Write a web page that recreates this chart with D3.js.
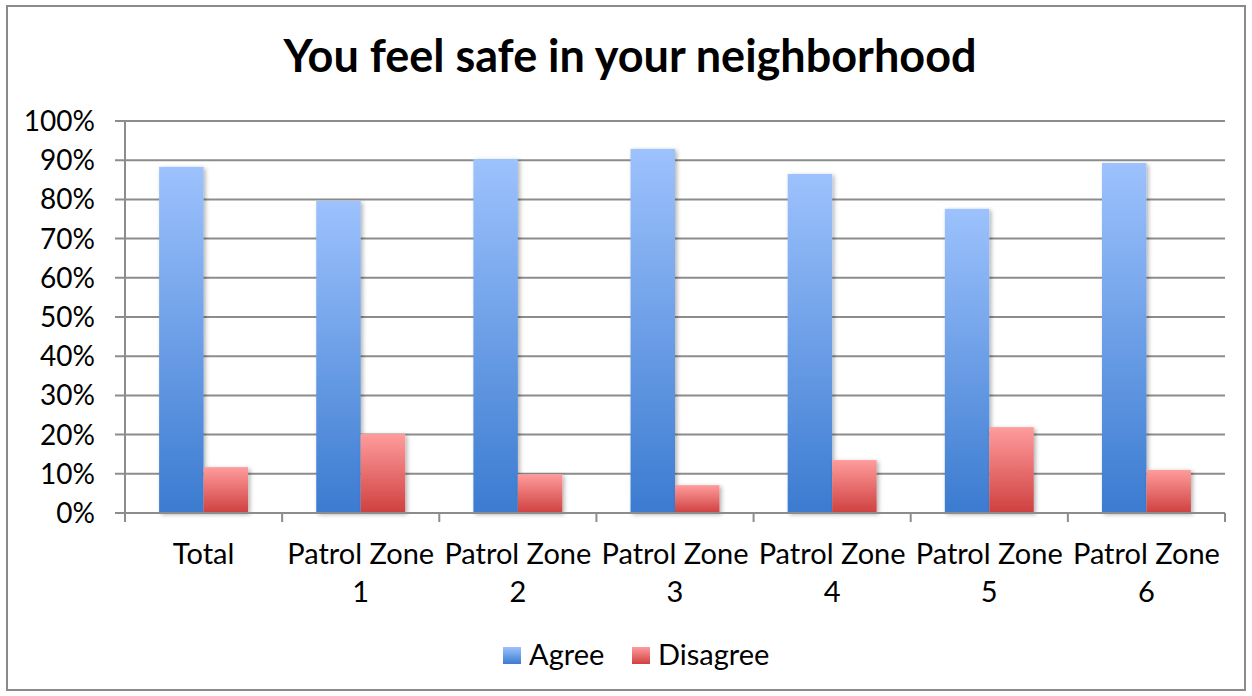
<!DOCTYPE html>
<html><head><meta charset="utf-8">
<script src="https://cdn.jsdelivr.net/npm/d3@7"></script>
<style>body{margin:0;background:#fff}svg{display:block}text{font-family:Lato,"Open Sans",sans-serif;fill:#000}</style>
</head><body>
<svg id="c" width="1252" height="696"></svg>
<script>
const categories = ["Total","Patrol Zone 1","Patrol Zone 2","Patrol Zone 3","Patrol Zone 4","Patrol Zone 5","Patrol Zone 6"];
const seriesNames = ["Agree","Disagree"];
const agree = [88.3, 79.6, 90.3, 92.9, 86.5, 77.6, 89.3];
const disagree = [11.7, 20.2, 9.9, 7.1, 13.5, 21.9, 11.0];
const yTicks = [0,10,20,30,40,50,60,70,80,90,100];
const title = "You feel safe in your neighborhood";

const svg = d3.select("#c");
const m = {l:125, r:1225, t:121, b:513};
const defs = svg.append("defs");
const grads = [["gA","#9dc2fd","#3b7bd0"],["gD","#ff9c9c","#cf4040"]];
grads.forEach(([id,c1,c2])=>{
  const g = defs.append("linearGradient").attr("id",id).attr("x1",0).attr("y1",0).attr("x2",0).attr("y2",1);
  g.append("stop").attr("offset","0%").attr("stop-color",c1);
  g.append("stop").attr("offset","100%").attr("stop-color",c2);
});
const f = defs.append("filter").attr("id","sh").attr("x","-20%").attr("y","-20%").attr("width","150%").attr("height","150%");
f.append("feDropShadow").attr("dx",2).attr("dy",1.5).attr("stdDeviation",2).attr("flood-color","#000").attr("flood-opacity",0.3);

svg.append("rect").attr("x",7).attr("y",6).attr("width",1238).attr("height",684).attr("fill","#fff").attr("stroke","#8a8a8a").attr("stroke-width",2);

svg.append("text").attr("x",630).attr("y",72).attr("text-anchor","middle")
  .style("font-size","45px").style("font-weight","bold").text(title);

const x0 = d3.scaleBand().domain(categories).range([m.l,m.r]).padding(0);
const bw = x0.bandwidth();
const x1 = d3.scaleBand().domain(seriesNames).range([bw*0.217, bw*0.783]).padding(0);
const y = d3.scaleLinear().domain([0,100]).range([m.b,m.t]);

svg.append("g").selectAll("line").data(yTicks).join("line")
  .attr("x1",m.l-10).attr("x2",m.r).attr("y1",d=>y(d)).attr("y2",d=>y(d))
  .attr("stroke","#8c8c8c").attr("stroke-width",2);
svg.append("line").attr("x1",m.l).attr("x2",m.l).attr("y1",m.t).attr("y2",m.b+9).attr("stroke","#8c8c8c").attr("stroke-width",2);
svg.append("g").selectAll("text").data(yTicks).join("text")
  .attr("x",95).attr("y",d=>y(d)+10).attr("text-anchor","end").style("font-size","28px").text(d=>d+"%");

const data = categories.map((c,i)=>({c, vals:[{s:"Agree",v:agree[i]},{s:"Disagree",v:disagree[i]}]}));
const g = svg.append("g");
g.selectAll("g").data(data).join("g").attr("transform",d=>`translate(${x0(d.c)},0)`)
  .selectAll("rect").data(d=>d.vals).join("rect")
  .attr("x",d=>x1(d.s)).attr("width",x1.bandwidth())
  .attr("y",d=>y(d.v)).attr("height",d=>y(0)-y(d.v))
  .attr("fill",d=>d.s==="Agree"?"url(#gA)":"url(#gD)")
  .attr("filter","url(#sh)");

svg.append("line").attr("x1",m.l).attr("x2",m.r).attr("y1",m.b).attr("y2",m.b).attr("stroke","#8c8c8c").attr("stroke-width",2);
const bounds = categories.map(c=>x0(c)).concat([m.r]);
svg.append("g").selectAll("line").data(bounds).join("line")
  .attr("x1",d=>d).attr("x2",d=>d).attr("y1",m.b).attr("y2",m.b+9).attr("stroke","#8c8c8c").attr("stroke-width",2);

const lab = svg.append("g").selectAll("text").data(categories).join("text")
  .attr("text-anchor","middle").style("font-size","29px");
lab.each(function(c){
  const t = d3.select(this);
  const cx = x0(c)+bw/2;
  const parts = c.startsWith("Patrol") ? ["Patrol Zone", c.split(" ").pop()] : [c];
  parts.forEach((p,i)=>t.append("tspan").attr("x",cx).attr("y",564+i*38).text(p));
});

const leg = svg.append("g");
const lx = [503, 632];
seriesNames.forEach((s,i)=>{
  leg.append("rect").attr("x",lx[i]).attr("y",647).attr("width",18).attr("height",17).attr("fill",i===0?"url(#gA)":"url(#gD)");
  leg.append("text").attr("x",lx[i]+26).attr("y",665).style("font-size","29px").text(s);
});
</script>
</body></html>
